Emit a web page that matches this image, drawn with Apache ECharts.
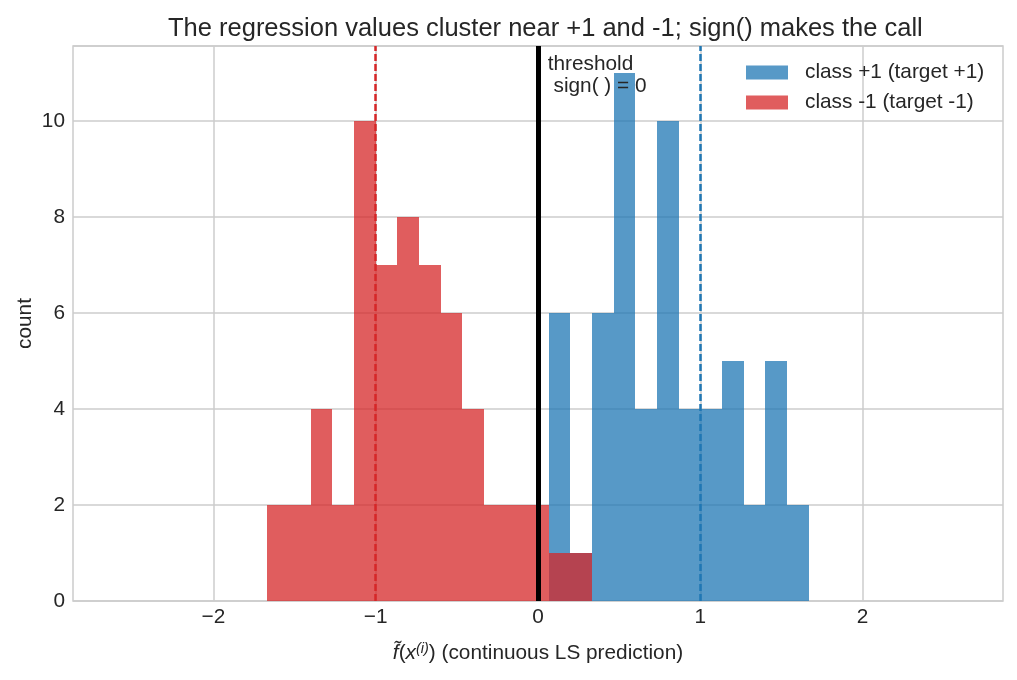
<!DOCTYPE html>
<html>
<head>
<meta charset="utf-8">
<script src="https://cdn.jsdelivr.net/npm/echarts@6/dist/echarts.min.js"></script>
<style>
  html, body { margin: 0; padding: 0; background: #fff; }
  #chart { width: 1017px; height: 680px; }
</style>
</head>
<body>
<div id="chart"></div>
<script>
// histogram bin edges (25 bins)
var binEdges = [-1.667, -1.533, -1.4, -1.267, -1.133, -1.0, -0.867, -0.733, -0.6, -0.467, -0.333, -0.2, -0.067,
                0.067, 0.2, 0.333, 0.467, 0.6, 0.733, 0.867, 1.0, 1.133, 1.267, 1.4, 1.533, 1.667];
// counts per bin
var blueCounts = [0, 0, 0, 0, 0, 0, 0, 0, 0, 0, 0, 0, 0, 6, 1, 6, 11, 4, 10, 4, 4, 5, 2, 5, 2];
var redCounts  = [2, 2, 4, 2, 10, 7, 8, 7, 6, 4, 2, 2, 2, 1, 1, 0, 0, 0, 0, 0, 0, 0, 0, 0, 0];
var xTicks = [-2, -1, 0, 1, 2];
var classMeans = [-1, 1];
var threshold = 0;

var fontName = 'Liberation Sans';
var textColor = '#262626';
var blueFill = 'rgba(31,119,180,0.75)';
var redFill = 'rgba(214,39,40,0.75)';

function histData(counts) {
  var out = [];
  for (var i = 0; i < counts.length; i++) {
    out.push([binEdges[i], binEdges[i + 1], counts[i]]);
  }
  return out;
}

// snap bin edges to whole pixels so neighbouring bins don't leave seams
function renderHist(fill) {
  return function (params, api) {
    var c = api.value(2);
    if (!c) return;
    var p0 = api.coord([api.value(0), c]);
    var p1 = api.coord([api.value(1), 0]);
    var x0 = Math.round(p0[0]), x1 = Math.round(p1[0]);
    var y0 = Math.round(p0[1]), y1 = Math.round(p1[1]);
    return {
      type: 'rect',
      shape: { x: x0, y: y0, width: x1 - x0, height: y1 - y0 },
      style: { fill: fill }
    };
  };
}

var chart = echarts.init(document.getElementById('chart'));

var option = {
  animation: false,
  textStyle: { fontFamily: fontName, color: textColor },
  title: {
    text: 'The regression values cluster near +1 and -1; sign() makes the call',
    left: 163,
    top: 11,
    textStyle: { fontFamily: fontName, fontSize: 25.5, fontWeight: 'normal', color: textColor }
  },
  legend: {
    orient: 'vertical',
    left: 746,
    top: 62,
    padding: 0,
    itemWidth: 42,
    itemHeight: 14,
    itemGap: 9,
    icon: 'rect',
    textStyle: { fontFamily: fontName, fontSize: 20.8, color: textColor, padding: [0, 0, 0, 12] },
    data: ['class +1 (target +1)', 'class -1 (target -1)']
  },
  grid: {
    left: 73, right: 14, top: 46, bottom: 79,
    show: true, borderColor: '#cccccc', borderWidth: 1.5, backgroundColor: 'transparent'
  },
  xAxis: {
    type: 'value',
    min: -2.865,
    max: 2.865,
    name: '{i|f\u0303}{n|(}{i|x}{sup|(i)}{n|) (continuous LS prediction)}',
    nameLocation: 'middle',
    nameGap: 40,
    nameTextStyle: {
      rich: {
        i: { fontFamily: fontName, fontSize: 20.8, fontStyle: 'italic', color: textColor },
        n: { fontFamily: fontName, fontSize: 20.8, color: textColor },
        sup: { fontFamily: fontName, fontSize: 14.5, fontStyle: 'italic', color: textColor, verticalAlign: 'top', padding: [0, 0, 10, 0] }
      }
    },
    axisLine: { show: false },
    axisTick: { show: false, customValues: xTicks },
    axisLabel: {
      customValues: xTicks,
      fontFamily: fontName, fontSize: 20.8, color: textColor, margin: 6,
      formatter: function (v) { return String(v).replace('-', '\u2212'); }
    },
    splitLine: { show: true, lineStyle: { color: '#cccccc', width: 1.5 } }
  },
  yAxis: {
    type: 'value',
    min: 0,
    max: 11.56,
    interval: 2,
    name: 'count',
    nameLocation: 'middle',
    nameRotate: 90,
    nameGap: 37,
    nameMoveOverlap: false,
    nameTextStyle: { fontFamily: fontName, fontSize: 20.8, color: textColor },
    axisLine: { show: false },
    axisTick: { show: false },
    axisLabel: {
      fontFamily: fontName, fontSize: 20.8, color: textColor, margin: 8,
      showMaxLabel: false
    },
    splitLine: { show: true, lineStyle: { color: '#cccccc', width: 1.5 } }
  },
  series: [
    {
      name: 'class +1 (target +1)',
      type: 'custom',
      renderItem: renderHist(blueFill),
      itemStyle: { color: blueFill },
      encode: { x: [0, 1], y: 2 },
      data: histData(blueCounts)
    },
    {
      name: 'class -1 (target -1)',
      type: 'custom',
      renderItem: renderHist(redFill),
      itemStyle: { color: redFill },
      encode: { x: [0, 1], y: 2 },
      data: histData(redCounts),
      markLine: {
        silent: true,
        symbol: 'none',
        label: { show: false },
        data: [
          { xAxis: classMeans[0], lineStyle: { color: '#d62728', width: 2.5, type: [7, 3] } },
          { xAxis: classMeans[1], lineStyle: { color: '#1f77b4', width: 2.5, type: [7, 3] } },
          { xAxis: threshold, lineStyle: { color: '#000000', width: 5, type: 'solid' } }
        ]
      }
    }
  ]
};

chart.setOption(option);

// threshold annotation, placed in data space
var pt = chart.convertToPixel({ xAxisIndex: 0, yAxisIndex: 0 }, [threshold + 0.06, 11.4]);
chart.setOption({
  graphic: [{
    type: 'text',
    left: pt[0],
    top: pt[1],
    z: 100,
    style: {
      text: 'threshold\n sign( ) = 0',
      fontFamily: fontName,
      fontSize: 20.8,
      lineHeight: 22,
      fill: textColor
    }
  }]
});
</script>
</body>
</html>
